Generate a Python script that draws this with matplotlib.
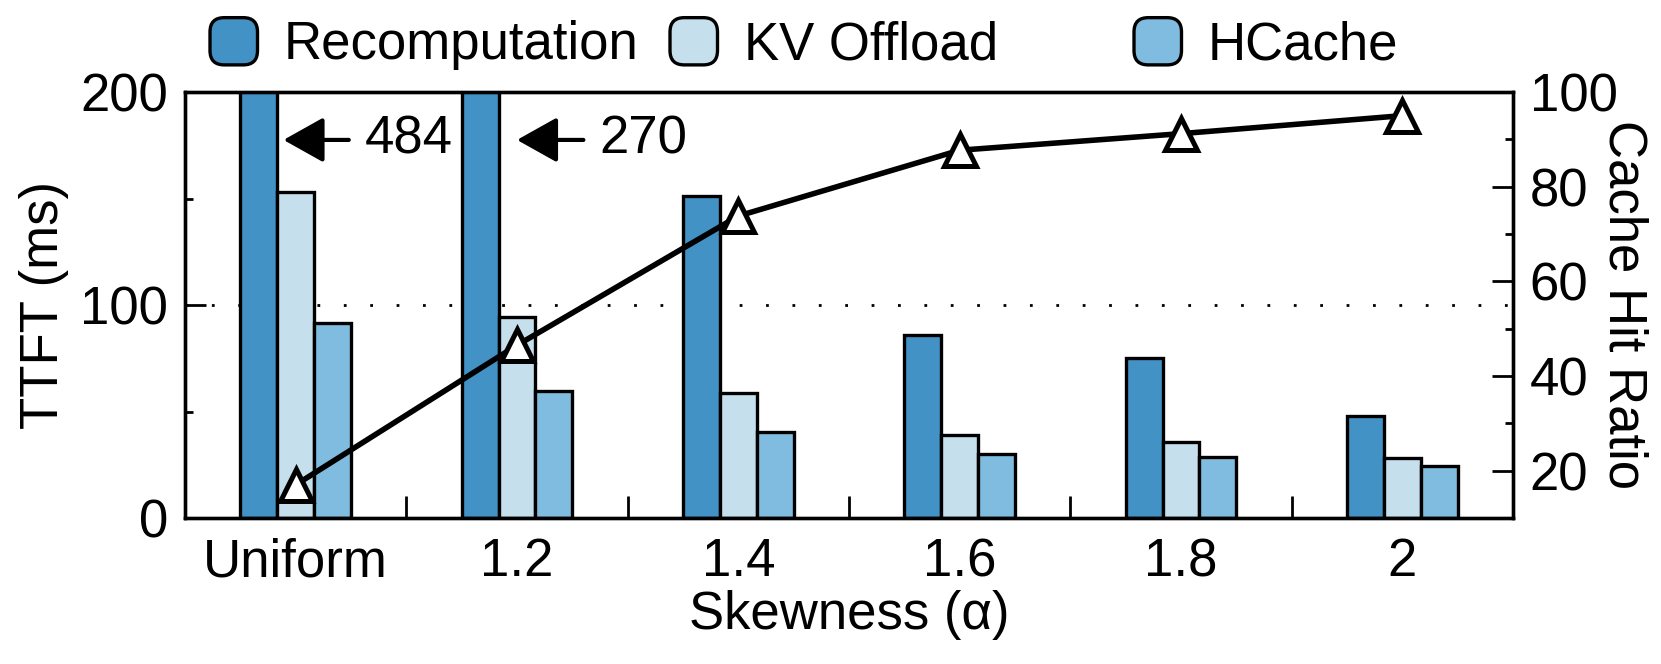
import numpy as np
import matplotlib
matplotlib.use('Agg')
import matplotlib.pyplot as plt
import matplotlib.patches as mpatches
from matplotlib.legend_handler import HandlerPatch
from matplotlib.ticker import MultipleLocator, FixedLocator

plt.rcParams['font.family'] = ['Liberation Sans', 'DejaVu Sans']
plt.rcParams['font.size'] = 38

# data
labels = ['Uniform', '1.2', '1.4', '1.6', '1.8', '2']
recomp = [484, 270, 151, 86, 75, 48]
kv_offload = [153, 94.5, 58.5, 39, 35.5, 28]
hcache = [91.5, 59.5, 40.5, 30, 28.5, 24.5]
hit_ratio = [17, 46.5, 73.8, 87.7, 91.2, 95]

colors = ['#4292c6', '#c6dfed', '#7fbcdf']
names = ['Recomputation', 'KV Offload', 'HCache']


def rounded_box(legend, orig_handle, xdescent, ydescent, width, height, fontsize):
    return mpatches.FancyBboxPatch((-xdescent, -ydescent), width, height,
                                   boxstyle='round,pad=0,rounding_size=%f' % (0.3 * width))


fig = plt.figure(figsize=(16.61, 6.64), dpi=100)
ax = fig.add_axes([185 / 1661, 146 / 664, 1328 / 1661, 426 / 664])

x = np.arange(len(labels))
w = 1 / 6
bars = []
for i, (vals, c) in enumerate(zip([recomp, kv_offload, hcache], colors)):
    b = ax.bar(x + (i - 1) * w, vals, w, color=c, edgecolor='k', linewidth=2.4, zorder=2)
    bars.append(b)

ax.axhline(100, color='k', ls=(0, (1, 8.5)), lw=2, zorder=1)

ax.set_xlim(-0.5, 5.5)
ax.set_ylim(0, 200)
ax.set_xticks(x)
ax.set_xticklabels(labels)
ax.xaxis.set_minor_locator(FixedLocator(x[:-1] + 0.5))
ax.yaxis.set_major_locator(MultipleLocator(100))
ax.yaxis.set_minor_locator(MultipleLocator(50))
ax.tick_params(axis='x', which='major', length=0, pad=14)
ax.tick_params(axis='x', which='minor', direction='in', length=16, width=2)
ax.tick_params(axis='y', which='major', direction='in', length=15, width=2, pad=12)
ax.tick_params(axis='y', which='minor', direction='in', length=6, width=2)
ax.set_ylabel('TTFT (ms)', labelpad=8)
ax.set_xlabel('Skewness (α)', labelpad=2)

# clipped bars
arrow = dict(arrowstyle='-|>,head_length=2.5,head_width=1.4', color='k',
             lw=3, shrinkA=0, shrinkB=0, mutation_scale=10)
ax.annotate('', xy=(-0.055, 177.5), xytext=(0.24, 177.5), arrowprops=arrow)
ax.text(0.31, 177.5, str(recomp[0]), va='center', ha='left')
ax.annotate('', xy=(1.0, 177.5), xytext=(1.30, 177.5), arrowprops=arrow)
ax.text(1.37, 177.5, str(recomp[1]), va='center', ha='left')

ax2 = ax.twinx()
ax2.plot(x, hit_ratio, color='k', lw=4, marker='^', ms=23, mfc='white', mec='k', mew=3.6)
ax2.set_ylim(10, 100)
ax2.yaxis.set_major_locator(MultipleLocator(20))
ax2.yaxis.set_minor_locator(MultipleLocator(10))
ax2.tick_params(axis='y', which='major', direction='in', length=15, width=2, pad=12)
ax2.tick_params(axis='y', which='minor', direction='in', length=6, width=2)
ax2.set_ylabel('Cache Hit Ratio', rotation=270)
ax2.yaxis.set_label_coords(1.083, 0.5)
ax2.yaxis.label.set_va('center')
ax2.yaxis.label.set_ha('center')

for a in (ax, ax2):
    for s in a.spines.values():
        s.set_linewidth(2.4)

for b, name, xpos in zip(bars, names, [210 / 1661, 670 / 1661, 1134 / 1661]):
    fig.legend([b.patches[0]], [name], loc='center left', bbox_to_anchor=(xpos, 1 - 44 / 664),
               frameon=False, borderpad=0, borderaxespad=0, handlelength=0.9,
               handleheight=1.0, handletextpad=0.5,
               handler_map={mpatches.Rectangle: HandlerPatch(patch_func=rounded_box)})

fig.savefig('out.png', dpi=100)
